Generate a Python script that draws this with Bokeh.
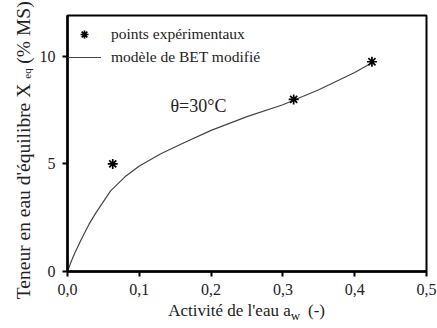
import math
from bokeh.plotting import figure
from bokeh.models import (Range1d, FixedTicker, CustomJSTickFormatter, Label, Legend, LegendItem,
                          LinearAxis)
from bokeh.embed import file_html
from bokeh.resources import INLINE

# data
exp_aw = [0.063, 0.315, 0.424]
exp_x = [5.0, 8.0, 9.75]
model_aw = [0.0, 0.005, 0.01, 0.02, 0.03, 0.04, 0.06, 0.08, 0.10, 0.13, 0.16, 0.20, 0.25, 0.30, 0.35, 0.40, 0.424]
model_x = [0.0, 0.45, 0.85, 1.55, 2.2, 2.75, 3.75, 4.4, 4.9, 5.47, 5.95, 6.56, 7.2, 7.75, 8.45, 9.25, 9.7]
x_ticks = [0.0, 0.1, 0.2, 0.3, 0.4, 0.5]
x_tick_labels = ["0,0", "0,1", "0,2", "0,3", "0,4", "0,5"]
y_ticks = [0, 5, 10]

W, H = 437, 328
L, R, T, B = 67, 11, 15, 57
XMAX, YMAX = 0.5, 11.9
serif = "\"Liberation Serif\", \"Times New Roman\", serif"
ink = "#222222"

p = figure(width=W, height=H, output_backend="svg", toolbar_location=None,
           x_range=Range1d(0, XMAX), y_range=Range1d(0, YMAX),
           min_border_left=L, min_border_right=R, min_border_top=T, min_border_bottom=B)
p.xgrid.visible = False
p.ygrid.visible = False
p.outline_line_color = "black"
p.outline_line_width = 2
p.background_fill_color = "white"
p.border_fill_color = "white"

for ax in (p.xaxis[0], p.yaxis[0]):
    ax.axis_line_width = 2.5
    ax.axis_line_color = "black"
    ax.major_tick_line_width = 2
    ax.major_tick_line_color = "black"
    ax.major_tick_in = 0
    ax.major_tick_out = 5
    ax.minor_tick_line_color = None
    ax.major_label_text_font = serif
    ax.major_label_text_color = ink
    ax.major_label_text_font_size = "16px"
p.xaxis.major_label_standoff = 7
p.yaxis.major_label_standoff = 7

p.xaxis.ticker = FixedTicker(ticks=x_ticks)
p.yaxis.ticker = FixedTicker(ticks=y_ticks)
p.xaxis.formatter = CustomJSTickFormatter(args=dict(labels=x_tick_labels), code="return labels[index];")

line = p.line(model_aw, model_x, line_color="#444444", line_width=1.2)
pts = p.scatter(exp_aw, exp_x, marker="asterisk", size=10, line_color="black", line_width=1.7)

legend = Legend(items=[LegendItem(label="points expérimentaux", renderers=[pts]),
                       LegendItem(label="modèle de BET modifié", renderers=[line])],
                location=(0, 204), glyph_width=34, glyph_height=20, label_standoff=10,
                spacing=3, padding=0, margin=4,
                label_text_font=serif, label_text_font_size="15.5px", label_text_color=ink,
                border_line_alpha=0, background_fill_alpha=0)
p.add_layout(legend)

p.add_layout(Label(x=170, y=105, x_units="canvas", y_units="canvas", text="θ=30°C",
                   text_font=serif, text_font_size="18px",
                   text_color=ink, text_baseline="middle"))

fw = W - L - R
fh = H - T - B
def dx(px):
    return (px - L) / fw * XMAX
def dy(py):
    return (H - B - py) / fh * YMAX

def text_axis(where, ticks, labels, size, standoff, vertical=False):
    ax = LinearAxis(ticker=FixedTicker(ticks=ticks),
                    formatter=CustomJSTickFormatter(args=dict(labels=labels), code="return labels[index];"),
                    axis_line_color=None, major_tick_line_color=None, minor_tick_line_color=None,
                    major_tick_in=0, major_tick_out=0,
                    major_label_text_font=serif, major_label_text_font_size=size,
                    major_label_text_color=ink, major_label_standoff=standoff)
    if vertical:
        ax.major_label_orientation = "vertical"
    p.add_layout(ax, where)
    return ax

# x title: "Activité de l'eau a_w (-)"
text_axis("below", [dx(229), dx(316)], ["Activité de l'eau a", "(-)"], "17px", 3)
text_axis("below", [dx(295)], ["w"], "13px", -15)
# y title: "Teneur en eau d'équilibre X_eq (% MS)"
text_axis("left", [dy(73)], ["eq"], "11px", 4, vertical=True)
text_axis("left", [dy(191), dy(32)], ["Teneur en eau d'équilibre X", "(% MS)"], "19.5px", -16, vertical=True)

open("out.html", "w").write(file_html(p, INLINE))
